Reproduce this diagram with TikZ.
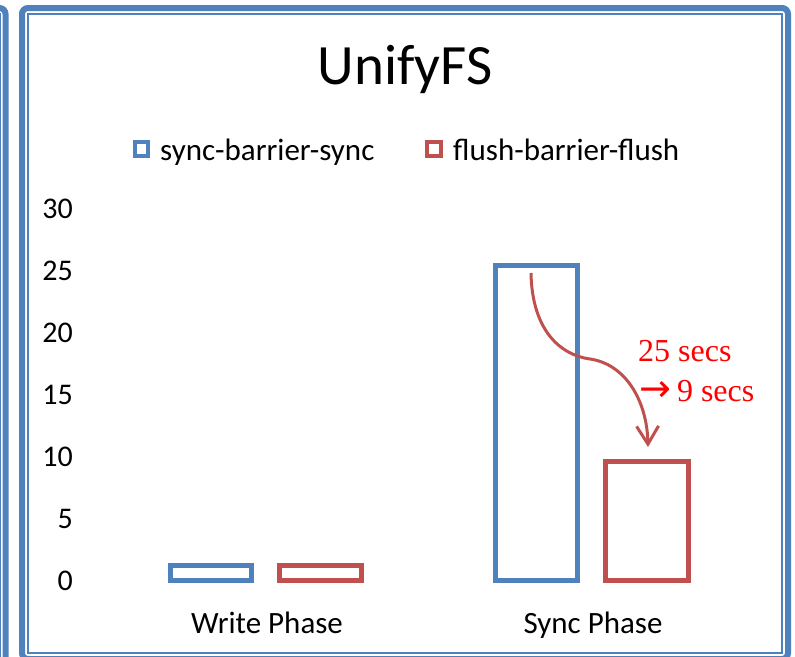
\documentclass[tikz,border=0pt]{standalone}
\usepackage{fontspec}
\setmainfont{Carlito}
\newfontfamily\notefont{Liberation Serif}
\newfontfamily\symbolfont{DejaVu Sans}
\usetikzlibrary{arrows.meta}
\definecolor{frameblue}{HTML}{4F81BD}
\definecolor{barblue}{HTML}{4F81BD}
\definecolor{barred}{HTML}{C0504D}
\definecolor{notered}{HTML}{FF0000}
\tikzset{
  framethick/.style={draw=frameblue, line width=6pt, rounded corners=6pt},
  framethin/.style={draw=frameblue, line width=2pt},
  barbox/.style={line width=5pt},
  legendbox/.style={line width=4pt},
  ticklabel/.style={anchor=base east, inner sep=0pt, font=\fontsize{30}{30}\selectfont},
  catlabel/.style={anchor=base, inner sep=0pt, font=\fontsize{31}{31}\selectfont},
  legendtext/.style={anchor=base west, inner sep=0pt, font=\fontsize{31}{31}\selectfont},
  notetext/.style={anchor=base west, inner sep=0pt, text=notered, font=\notefont\fontsize{32}{32}\selectfont},
  trend/.style={draw=barred, line width=3pt, -{Straight Barb[length=18pt,width=22pt,line width=3pt]}}
}
\begin{document}
\begin{tikzpicture}[x=1pt, y=-1pt]
  \useasboundingbox (0,0) rectangle (795,656);
  \clip (0,0) rectangle (795,656);

  % edge of the neighbouring panel
  \draw[framethick] (-40,8) -- (5.5,8) -- (5.5,700);
  \draw[framethin, line width=1.5pt] (-40,14) -- (0.5,14) -- (0.5,700);

  % panel frame
  \draw[framethick] (22,8) rectangle (788,659);
  \draw[framethin] (28,14) rectangle (782,653);

  % title
  \node[anchor=base, inner sep=0pt, font=\fontsize{57}{57}\selectfont] (title) at (405,84) {UnifyFS};

  % legend
  \draw[legendbox, draw=barblue] (135,142) rectangle (148,156);
  \node[legendtext] (legA) at (160,160) {sync-barrier-sync};
  \draw[legendbox, draw=barred] (427,142) rectangle (441,156);
  \node[legendtext] (legB) at (453,160) {flush-barrier-flush};

  % value axis labels
  \foreach \v/\yy in {0/590, 5/528.1, 10/466.1, 15/404.2, 20/342.2, 25/280.3, 30/218.3}
    \node[ticklabel] (tick\v) at (73,\yy) {\v};

  % bars
  \draw[barbox, draw=barblue] (170,565.5) rectangle (251.5,580.5);
  \draw[barbox, draw=barred]  (279.5,565.5) rectangle (361.5,580.5);
  \draw[barbox, draw=barblue] (495.5,265.5) rectangle (577.5,580.5);
  \draw[barbox, draw=barred]  (605.5,461.5) rectangle (688.5,580.5);

  % category labels
  \node[catlabel] (catW) at (267,633) {Write Phase};
  \node[catlabel] (catS) at (593,633) {Sync Phase};

  % improvement annotation
  \coordinate (before) at (531,273);
  \coordinate (bend) at (590,359);
  \coordinate (after) at (648,447);
  \draw[trend] (before) .. controls (532,330) and (560,355) .. (bend)
                        .. controls (625,364) and (647,400) .. (after);
  \node[notetext] (noteA) at (638,361.7) {25 secs};
  \node[notetext] (noteB) at (639,401.7) {{\symbolfont\fontsize{38}{38}\selectfont →}\hspace{6pt}9 secs};
\end{tikzpicture}
\end{document}
